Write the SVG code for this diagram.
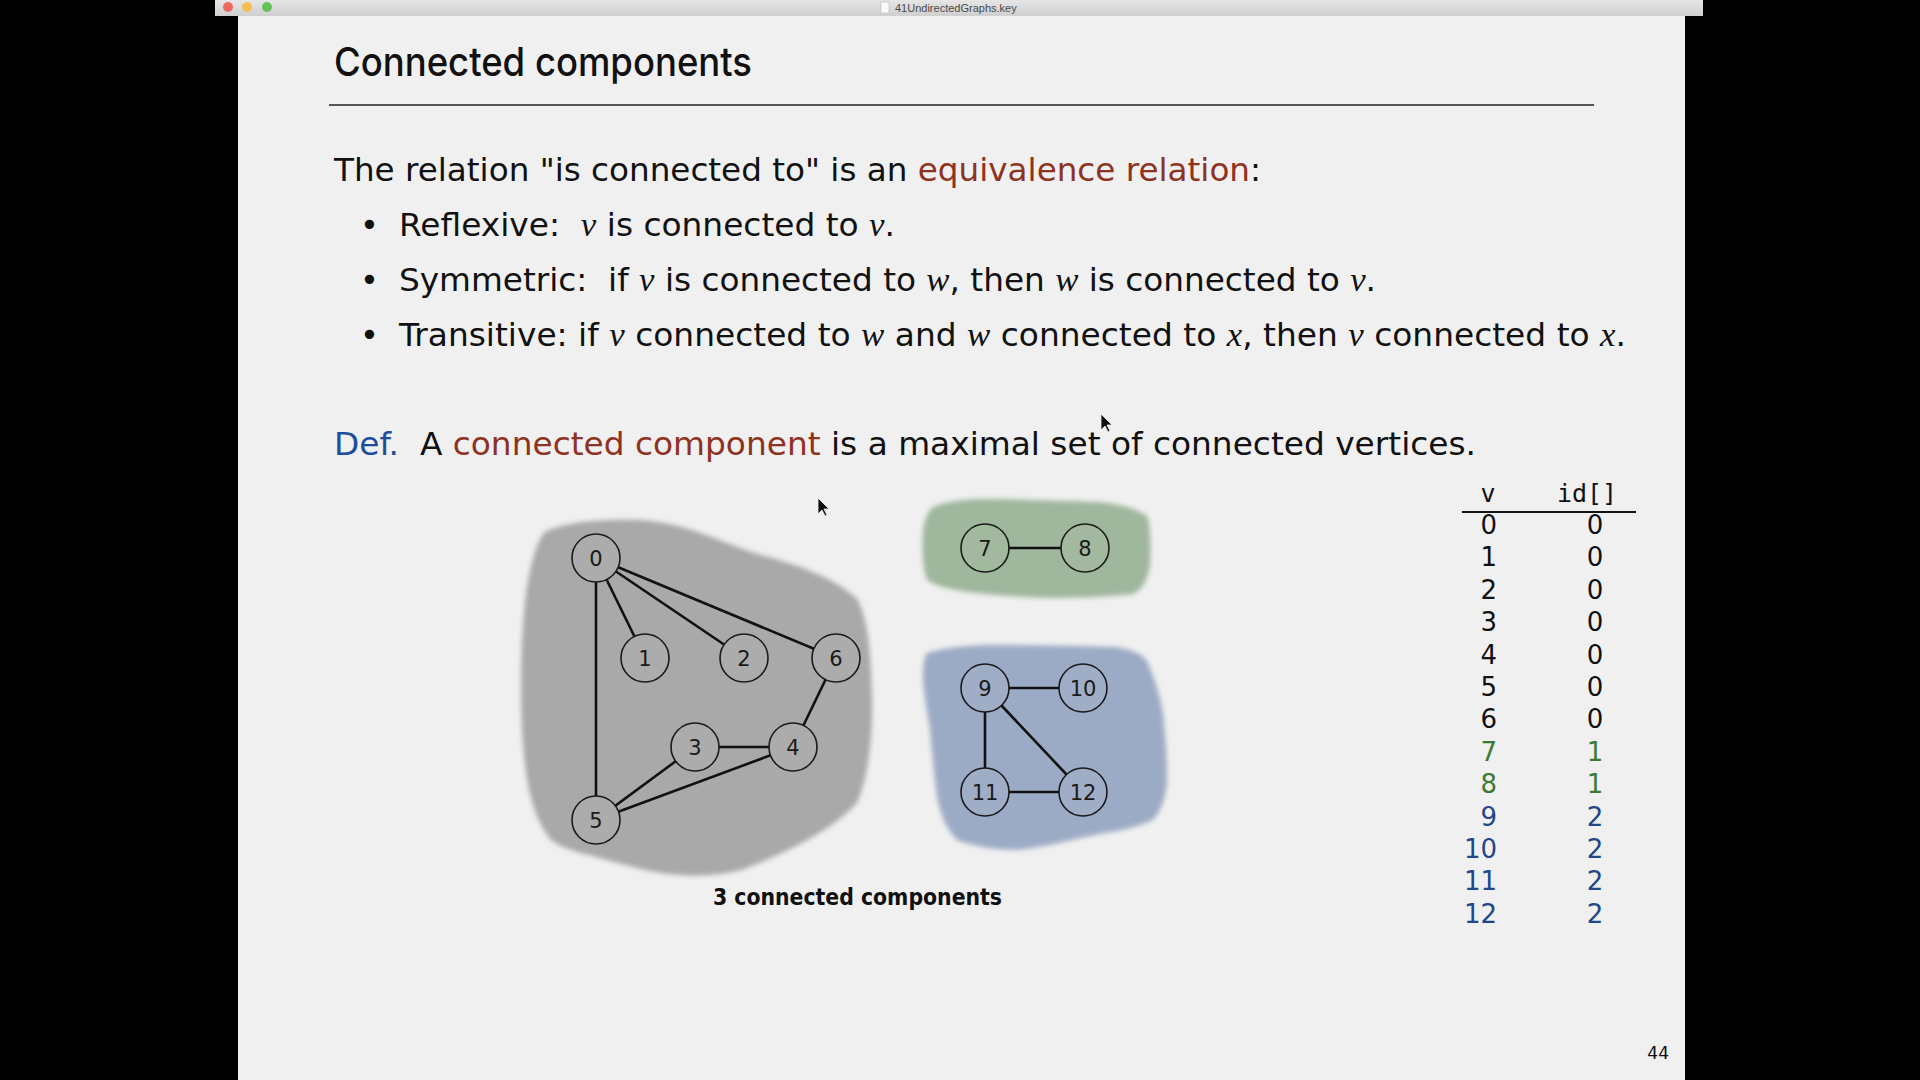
<svg xmlns="http://www.w3.org/2000/svg" width="1920" height="1080" viewBox="0 0 1920 1080">
<style>
.body{font-family:"DejaVu Sans","Liberation Sans",sans-serif;font-size:32px;fill:#111}
.it{font-family:"Liberation Serif",serif;font-style:italic;font-size:34px}
.red{fill:#8e3221}
.blue{fill:#1d4e9e}
.node circle{stroke:#1a1a1a;stroke-width:1.6}
.node text{font-family:"DejaVu Sans","Liberation Sans",sans-serif;font-size:21px;fill:#1a1a1a;text-anchor:middle}
.edge{stroke:#111;stroke-width:2.6}
.tv{font-family:"DejaVu Sans","Liberation Sans",sans-serif;font-size:26px;text-anchor:end}
.ti{font-family:"DejaVu Sans","Liberation Sans",sans-serif;font-size:26px;text-anchor:middle}
.k{fill:#111}.g{fill:#3b7a33}.b{fill:#21478a}
.hdr{font-family:"DejaVu Sans Mono","Liberation Mono",monospace;font-size:25px;fill:#111;text-anchor:middle}
</style>
<defs>
<filter id="soft" x="-10%" y="-10%" width="120%" height="120%"><feGaussianBlur stdDeviation="2.5"/></filter>
<linearGradient id="bar" x1="0" y1="0" x2="0" y2="1"><stop offset="0" stop-color="#e6e6e6"/><stop offset="1" stop-color="#cfcfcf"/></linearGradient>
</defs>
<rect width="1920" height="1080" fill="#000"/>
<rect x="215" y="0" width="1488" height="16" fill="url(#bar)"/>
<circle cx="228" cy="7" r="5" fill="#ee6a5e"/>
<circle cx="247" cy="7" r="5" fill="#f5bf4f"/>
<circle cx="267" cy="7" r="5" fill="#61c454"/>
<rect x="881" y="2" width="8" height="11" fill="#fafafa" stroke="#bbb" stroke-width="0.6"/>
<text x="895" y="12" font-family="Liberation Sans,sans-serif" font-size="11" fill="#4a4a4a">41UndirectedGraphs.key</text>
<rect x="238" y="16" width="1447" height="1064" fill="#f0f0f0"/>

<text x="334" y="76" font-family="Inter,Liberation Sans,sans-serif" font-weight="500" font-size="40" fill="#111" textLength="418" lengthAdjust="spacingAndGlyphs">Connected components</text>
<line x1="329" y1="105" x2="1594" y2="105" stroke="#222" stroke-width="1.6"/>

<text class="body" x="334" y="181" textLength="927" lengthAdjust="spacingAndGlyphs">The relation "is connected to" is an <tspan class="red">equivalence relation</tspan>:</text>
<text class="body" x="360" y="236">•</text>
<text class="body" x="399" y="236" textLength="496" lengthAdjust="spacingAndGlyphs">Reflexive:&#160; <tspan class="it">v</tspan> is connected to <tspan class="it">v</tspan>.</text>
<text class="body" x="360" y="291">•</text>
<text class="body" x="399" y="291" textLength="977" lengthAdjust="spacingAndGlyphs">Symmetric:&#160; if <tspan class="it">v</tspan> is connected to <tspan class="it">w</tspan>, then <tspan class="it">w</tspan> is connected to <tspan class="it">v</tspan>.</text>
<text class="body" x="360" y="346">•</text>
<text class="body" x="399" y="346" textLength="1227" lengthAdjust="spacingAndGlyphs">Transitive: if <tspan class="it">v</tspan> connected to <tspan class="it">w</tspan> and <tspan class="it">w</tspan> connected to <tspan class="it">x</tspan>, then <tspan class="it">v</tspan> connected to <tspan class="it">x</tspan>.</text>

<text class="body" x="334" y="455" textLength="1142" lengthAdjust="spacingAndGlyphs"><tspan class="blue">Def.</tspan>&#160; A <tspan class="red">connected component</tspan> is a maximal set of connected vertices.</text>

<g id="blobs">
<path id="blob0" filter="url(#soft)" fill="#a9a9a9" d="M545,532 C565,522 600,519 640,520 C690,523 725,545 765,556 C805,567 838,580 858,600 C869,625 871,655 872,695 C873,740 868,778 857,803 C832,830 792,850 742,870 C702,880 662,876 622,864 C592,855 567,852 551,840 C531,815 525,780 522,730 C520,680 521,620 528,580 C533,555 538,540 545,532 Z"/>
<path id="blob1" filter="url(#soft)" fill="#9fb79c" d="M933,507 C955,498 980,499 1000,499 C1040,500 1070,501 1100,502 C1125,505 1140,510 1148,517 C1151,535 1151,550 1150,565 C1148,580 1142,590 1133,594 C1105,597 1075,598 1050,598 C1020,597 990,595 967,592 C950,589 935,586 927,580 C922,565 922,545 923,530 C925,518 928,511 933,507 Z"/>
<path id="blob2" filter="url(#soft)" fill="#9cabc5" d="M927,653 C950,646 975,645 1000,645 C1040,645 1080,646 1117,647 C1133,650 1142,654 1147,661 C1155,680 1160,695 1163,713 C1166,740 1167,760 1167,780 C1166,800 1160,812 1153,820 C1135,828 1118,831 1100,834 C1070,840 1045,847 1017,850 C995,850 972,846 957,840 C945,828 940,812 937,797 C934,775 932,752 930,730 C927,712 924,695 923,680 C923,665 924,658 927,653 Z"/>
</g>

<g id="connectors">
<line class="edge" x1="596" y1="558" x2="645" y2="658"/>
<line class="edge" x1="596" y1="558" x2="744" y2="658"/>
<line class="edge" x1="596" y1="558" x2="836" y2="658"/>
<line class="edge" x1="596" y1="558" x2="596" y2="820"/>
<line class="edge" x1="836" y1="658" x2="793" y2="747"/>
<line class="edge" x1="695" y1="747" x2="793" y2="747"/>
<line class="edge" x1="695" y1="747" x2="596" y2="820"/>
<line class="edge" x1="793" y1="747" x2="596" y2="820"/>
<line class="edge" x1="985" y1="548" x2="1085" y2="548"/>
<line class="edge" x1="985" y1="688" x2="1083" y2="688"/>
<line class="edge" x1="985" y1="688" x2="985" y2="792"/>
<line class="edge" x1="985" y1="688" x2="1083" y2="792"/>
<line class="edge" x1="985" y1="792" x2="1083" y2="792"/>
</g>

<g id="node0" class="node"><circle cx="596" cy="558" r="24" fill="#acacac"/><text x="596" y="565.5">0</text></g>
<g id="node1" class="node"><circle cx="645" cy="658" r="24" fill="#acacac"/><text x="645" y="665.5">1</text></g>
<g id="node2" class="node"><circle cx="744" cy="658" r="24" fill="#acacac"/><text x="744" y="665.5">2</text></g>
<g id="node6" class="node"><circle cx="836" cy="658" r="24" fill="#acacac"/><text x="836" y="665.5">6</text></g>
<g id="node3" class="node"><circle cx="695" cy="747" r="24" fill="#acacac"/><text x="695" y="754.5">3</text></g>
<g id="node4" class="node"><circle cx="793" cy="747" r="24" fill="#acacac"/><text x="793" y="754.5">4</text></g>
<g id="node5" class="node"><circle cx="596" cy="820" r="24" fill="#acacac"/><text x="596" y="827.5">5</text></g>
<g id="node7" class="node"><circle cx="985" cy="548" r="24" fill="#a2b99f"/><text x="985" y="555.5">7</text></g>
<g id="node8" class="node"><circle cx="1085" cy="548" r="24" fill="#a2b99f"/><text x="1085" y="555.5">8</text></g>
<g id="node9" class="node"><circle cx="985" cy="688" r="24" fill="#9fadc7"/><text x="985" y="695.5">9</text></g>
<g id="node10" class="node"><circle cx="1083" cy="688" r="24" fill="#9fadc7"/><text x="1083" y="695.5">10</text></g>
<g id="node11" class="node"><circle cx="985" cy="792" r="24" fill="#9fadc7"/><text x="985" y="799.5">11</text></g>
<g id="node12" class="node"><circle cx="1083" cy="792" r="24" fill="#9fadc7"/><text x="1083" y="799.5">12</text></g>

<text x="713" y="905" font-family="DejaVu Sans,Liberation Sans,sans-serif" font-weight="bold" font-size="23" fill="#111" textLength="289" lengthAdjust="spacingAndGlyphs">3 connected components</text>

<g id="table">
<text class="hdr" x="1488" y="502">v</text>
<text class="hdr" x="1587" y="502">id[]</text>
<line x1="1462" y1="512" x2="1636" y2="512" stroke="#111" stroke-width="1.8"/>
<text class="tv k" x="1497" y="534">0</text><text class="ti k" x="1595" y="534">0</text>
<text class="tv k" x="1497" y="566.4">1</text><text class="ti k" x="1595" y="566.4">0</text>
<text class="tv k" x="1497" y="598.8">2</text><text class="ti k" x="1595" y="598.8">0</text>
<text class="tv k" x="1497" y="631.2">3</text><text class="ti k" x="1595" y="631.2">0</text>
<text class="tv k" x="1497" y="663.6">4</text><text class="ti k" x="1595" y="663.6">0</text>
<text class="tv k" x="1497" y="696">5</text><text class="ti k" x="1595" y="696">0</text>
<text class="tv k" x="1497" y="728.4">6</text><text class="ti k" x="1595" y="728.4">0</text>
<text class="tv g" x="1497" y="760.8">7</text><text class="ti g" x="1595" y="760.8">1</text>
<text class="tv g" x="1497" y="793.2">8</text><text class="ti g" x="1595" y="793.2">1</text>
<text class="tv b" x="1497" y="825.6">9</text><text class="ti b" x="1595" y="825.6">2</text>
<text class="tv b" x="1497" y="858">10</text><text class="ti b" x="1595" y="858">2</text>
<text class="tv b" x="1497" y="890.4">11</text><text class="ti b" x="1595" y="890.4">2</text>
<text class="tv b" x="1497" y="922.8">12</text><text class="ti b" x="1595" y="922.8">2</text>
</g>

<text x="1669" y="1059" font-family="DejaVu Sans,Liberation Sans,sans-serif" font-size="17" fill="#111" text-anchor="end">44</text>

<path d="M1101,414 L1101,430 L1105,426 L1108,432 L1110,431 L1107,425 L1112,425 Z" fill="#111" stroke="#f0f0f0" stroke-width="0.8"/>
<path d="M818,498 L818,514 L822,510 L825,516 L827,515 L824,509 L829,509 Z" fill="#111" stroke="#f0f0f0" stroke-width="0.8"/>
</svg>
